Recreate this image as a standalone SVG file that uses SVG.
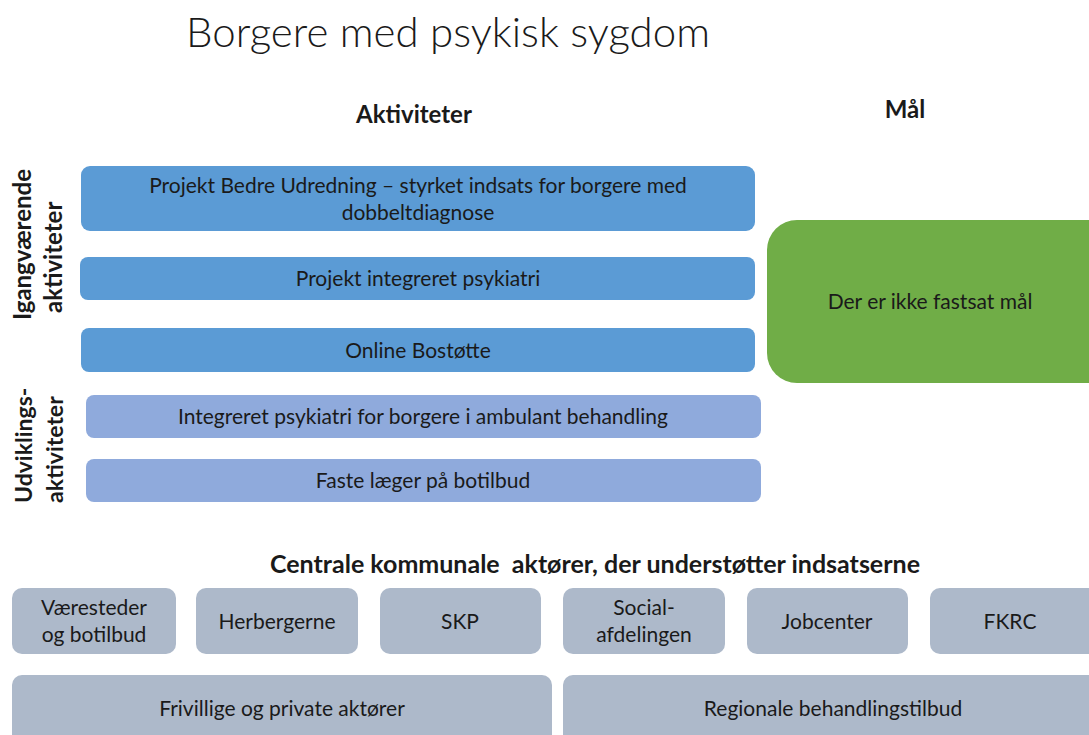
<svg xmlns="http://www.w3.org/2000/svg" width="1089" height="735" viewBox="0 0 1089 735">
<style>
text{font-family:Lato,"Open Sans","Liberation Sans",sans-serif;fill:#1a1a1a}
.t{font-size:21px;text-anchor:middle}
.b{font-weight:bold}
.blue{fill:#5B9BD5}
.lblue{fill:#8FAADC}
.grey{fill:#ADB9CA}
</style>
<rect width="1089" height="735" fill="#fff"/>
<text x="448" y="47" style="font-size:42px;font-weight:300;text-anchor:middle">Borgere med psykisk sygdom</text>
<text x="414" y="123" class="b" style="font-size:24px;text-anchor:middle">Aktiviteter</text>
<text x="905" y="118" class="b" style="font-size:24px;text-anchor:middle">Mål</text>
<g id="label-igang">
<text transform="translate(31,320) rotate(-90)" class="b" style="font-size:24px">Igangværende</text>
<text transform="translate(62,313) rotate(-90)" class="b" style="font-size:24px">aktiviteter</text>
</g>
<g id="label-udv">
<text transform="translate(32,503) rotate(-90)" class="b" style="font-size:23px">Udviklings-</text>
<text transform="translate(63,503) rotate(-90)" class="b" style="font-size:23px">aktiviteter</text>
</g>
<g id="a1"><rect x="81" y="166" width="674" height="65" rx="9" class="blue"/>
<text x="418" y="193" class="t">Projekt Bedre Udredning – styrket indsats for borgere med</text>
<text x="418" y="220" class="t">dobbeltdiagnose</text></g>
<g id="a2"><rect x="80" y="257" width="675" height="43" rx="8" class="blue"/>
<text x="418" y="286" class="t">Projekt integreret psykiatri</text></g>
<g id="a3"><rect x="81" y="328" width="674" height="44" rx="8" class="blue"/>
<text x="418" y="358" class="t">Online Bostøtte</text></g>
<g id="a4"><rect x="86" y="395" width="675" height="43" rx="8" class="lblue"/>
<text x="423" y="424" class="t">Integreret psykiatri for borgere i ambulant behandling</text></g>
<g id="a5"><rect x="86" y="459" width="675" height="43" rx="8" class="lblue"/>
<text x="423" y="488" class="t">Faste læger på botilbud</text></g>
<g id="goal"><rect x="767" y="220" width="352" height="163" rx="30" fill="#70AD47"/>
<text x="930" y="309" class="t">Der er ikke fastsat mål</text></g>
<text x="595" y="573" class="b" style="font-size:25px;text-anchor:middle;white-space:pre">Centrale kommunale  aktører, der understøtter indsatserne</text>
<g id="k1"><rect x="12" y="588" width="164" height="66" rx="10" class="grey"/>
<text x="94" y="615" class="t">Væresteder</text><text x="94" y="642" class="t">og botilbud</text></g>
<g id="k2"><rect x="196" y="588" width="162" height="66" rx="10" class="grey"/>
<text x="277" y="629" class="t">Herbergerne</text></g>
<g id="k3"><rect x="380" y="588" width="161" height="66" rx="10" class="grey"/>
<text x="460" y="629" class="t">SKP</text></g>
<g id="k4"><rect x="563" y="588" width="162" height="66" rx="10" class="grey"/>
<text x="644" y="615" class="t">Social-</text><text x="644" y="642" class="t">afdelingen</text></g>
<g id="k5"><rect x="747" y="588" width="161" height="66" rx="10" class="grey"/>
<text x="827" y="629" class="t">Jobcenter</text></g>
<g id="k6"><rect x="930" y="588" width="170" height="66" rx="10" class="grey"/>
<text x="1010" y="629" class="t">FKRC</text></g>
<g id="r1"><rect x="12" y="675" width="540" height="80" rx="10" class="grey"/>
<text x="282" y="716" class="t">Frivillige og private aktører</text></g>
<g id="r2"><rect x="563" y="675" width="540" height="80" rx="10" class="grey"/>
<text x="833" y="716" class="t">Regionale behandlingstilbud</text></g>
<g id="connectors"/>
</svg>
